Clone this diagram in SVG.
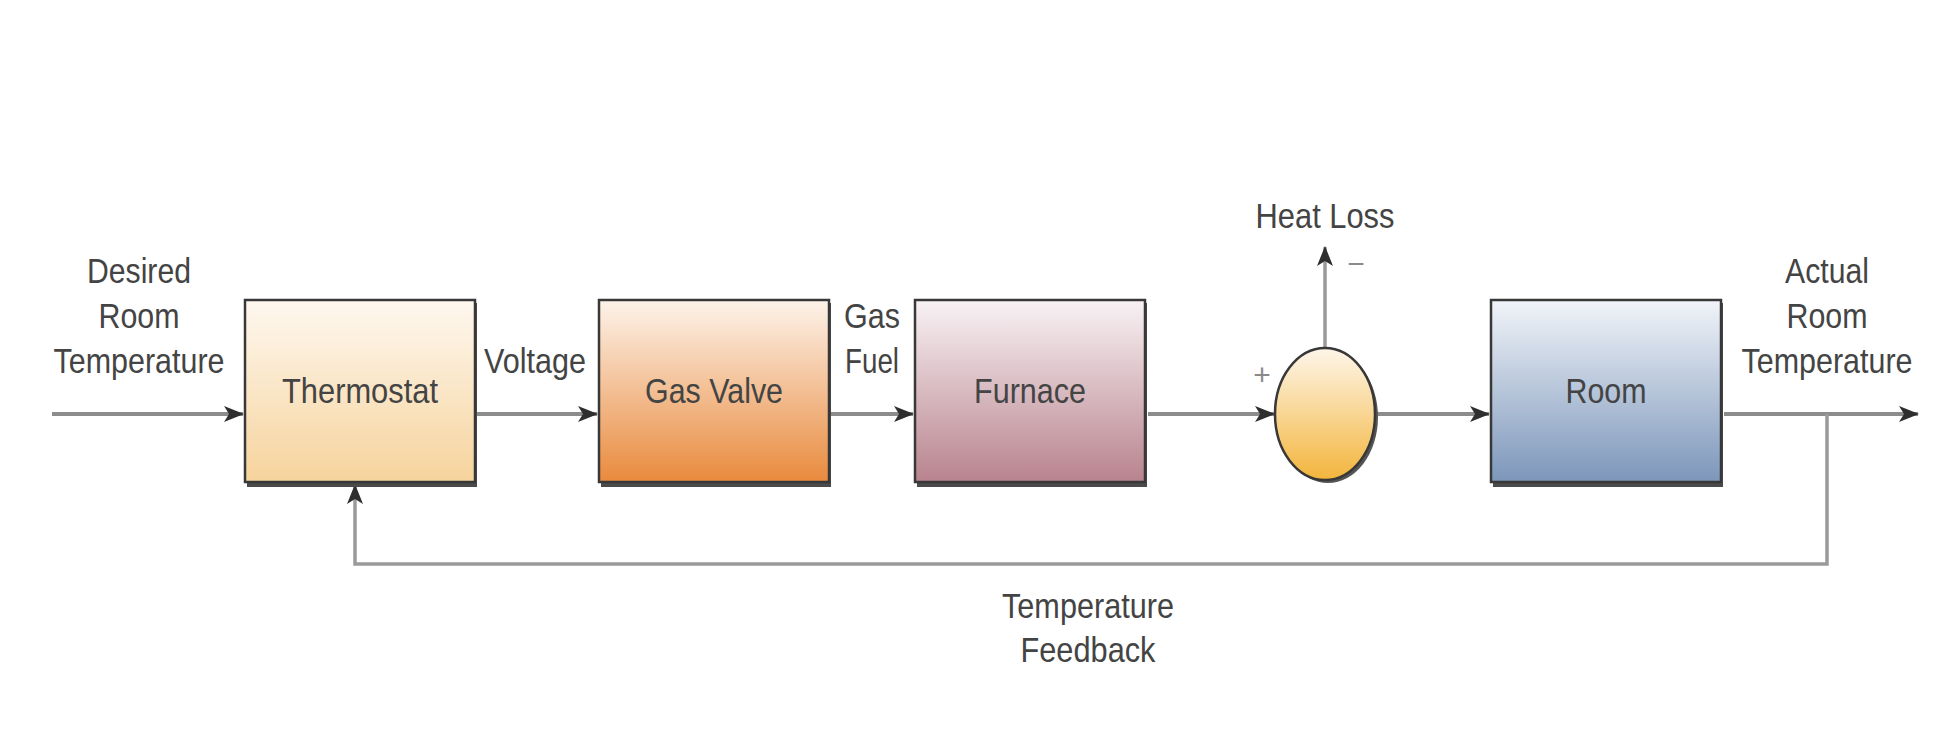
<svg xmlns="http://www.w3.org/2000/svg" width="1945" height="730" viewBox="0 0 1945 730">
<style>
  .lbl { font-family: "Liberation Sans", Arial, sans-serif; font-size: 35px; fill: #444444; text-anchor: middle; }
  .sign { font-family: "Liberation Sans", Arial, sans-serif; font-size: 30px; fill: #8a8a8a; text-anchor: middle; }
  .box { stroke: #383838; stroke-width: 2.5; }
  .shadow { fill: #4a4a4a; }
  .wire { fill: none; stroke: #8c8c8c; stroke-width: 4; }
  .wire2 { fill: none; stroke: #9a9a9a; stroke-width: 3.5; }
</style>
<defs>
  <linearGradient id="gThermo" x1="0" y1="0" x2="0" y2="1">
    <stop offset="0" stop-color="#fef8f0"/>
    <stop offset="1" stop-color="#f6d39c"/>
  </linearGradient>
  <linearGradient id="gValve" x1="0" y1="0" x2="0" y2="1">
    <stop offset="0" stop-color="#fdf3ea"/>
    <stop offset="1" stop-color="#e98a3d"/>
  </linearGradient>
  <linearGradient id="gFurn" x1="0" y1="0" x2="0" y2="1">
    <stop offset="0" stop-color="#f8f2f4"/>
    <stop offset="1" stop-color="#b8838e"/>
  </linearGradient>
  <linearGradient id="gRoom" x1="0" y1="0" x2="0" y2="1">
    <stop offset="0" stop-color="#f1f4f9"/>
    <stop offset="1" stop-color="#7c96ba"/>
  </linearGradient>
  <linearGradient id="gSum" x1="0" y1="0" x2="0" y2="1">
    <stop offset="0" stop-color="#fef6ea"/>
    <stop offset="1" stop-color="#f3b53c"/>
  </linearGradient>
  <marker id="arr" viewBox="0 0 20 16" refX="19" refY="8" markerWidth="20" markerHeight="16" markerUnits="userSpaceOnUse" orient="auto">
    <path d="M0,0 L20,8 L0,16 L5,8 Z" fill="#2e2e2e"/>
  </marker>
</defs>

<g id="connectors">
  <line class="wire" x1="52" y1="414" x2="243" y2="414" marker-end="url(#arr)"/>
  <line class="wire" x1="476" y1="414" x2="597" y2="414" marker-end="url(#arr)"/>
  <line class="wire" x1="831" y1="414" x2="913" y2="414" marker-end="url(#arr)"/>
  <line class="wire" x1="1148" y1="414" x2="1274" y2="414" marker-end="url(#arr)"/>
  <line class="wire" x1="1376" y1="414" x2="1489" y2="414" marker-end="url(#arr)"/>
  <line class="wire" x1="1724" y1="414" x2="1918" y2="414" marker-end="url(#arr)"/>
  <line class="wire2" x1="1325" y1="348" x2="1325" y2="247" marker-end="url(#arr)"/>
  <path class="wire2" d="M1827,414 L1827,564 L355,564 L355,485" marker-end="url(#arr)"/>
</g>

<g id="thermostat">
  <rect class="shadow" x="247" y="303" width="230" height="184"/>
  <rect class="box" x="245" y="300" width="230" height="182" fill="url(#gThermo)"/>
  <text class="lbl" x="360" y="403" textLength="156" lengthAdjust="spacingAndGlyphs">Thermostat</text>
</g>

<g id="gas-valve">
  <rect class="shadow" x="601" y="303" width="230" height="184"/>
  <rect class="box" x="599" y="300" width="230" height="182" fill="url(#gValve)"/>
  <text class="lbl" x="714" y="403" textLength="138" lengthAdjust="spacingAndGlyphs">Gas Valve</text>
</g>

<g id="furnace">
  <rect class="shadow" x="917" y="303" width="230" height="184"/>
  <rect class="box" x="915" y="300" width="230" height="182" fill="url(#gFurn)"/>
  <text class="lbl" x="1030" y="403" textLength="112" lengthAdjust="spacingAndGlyphs">Furnace</text>
</g>

<g id="summing-junction">
  <ellipse cx="1328" cy="417" rx="50" ry="66" fill="#555"/>
  <ellipse cx="1325" cy="414" rx="50" ry="66" fill="url(#gSum)" stroke="#383838" stroke-width="2.5"/>
  <text class="sign" x="1262" y="385">+</text>
  <text class="sign" x="1356" y="274">−</text>
</g>

<g id="room">
  <rect class="shadow" x="1493" y="303" width="230" height="184"/>
  <rect class="box" x="1491" y="300" width="230" height="182" fill="url(#gRoom)"/>
  <text class="lbl" x="1606" y="403" textLength="81" lengthAdjust="spacingAndGlyphs">Room</text>
</g>

<g id="labels">
  <text class="lbl" x="139" y="283" textLength="104" lengthAdjust="spacingAndGlyphs">Desired</text>
  <text class="lbl" x="139" y="328" textLength="81" lengthAdjust="spacingAndGlyphs">Room</text>
  <text class="lbl" x="139" y="373" textLength="171" lengthAdjust="spacingAndGlyphs">Temperature</text>
  <text class="lbl" x="535" y="373" textLength="102" lengthAdjust="spacingAndGlyphs">Voltage</text>
  <text class="lbl" x="872" y="328" textLength="56" lengthAdjust="spacingAndGlyphs">Gas</text>
  <text class="lbl" x="872" y="373" textLength="54" lengthAdjust="spacingAndGlyphs">Fuel</text>
  <text class="lbl" x="1325" y="228" textLength="139" lengthAdjust="spacingAndGlyphs">Heat Loss</text>
  <text class="lbl" x="1827" y="283" textLength="84" lengthAdjust="spacingAndGlyphs">Actual</text>
  <text class="lbl" x="1827" y="328" textLength="81" lengthAdjust="spacingAndGlyphs">Room</text>
  <text class="lbl" x="1827" y="373" textLength="171" lengthAdjust="spacingAndGlyphs">Temperature</text>
  <text class="lbl" x="1088" y="618" textLength="172" lengthAdjust="spacingAndGlyphs">Temperature</text>
  <text class="lbl" x="1088" y="662" textLength="135" lengthAdjust="spacingAndGlyphs">Feedback</text>
</g>
</svg>
